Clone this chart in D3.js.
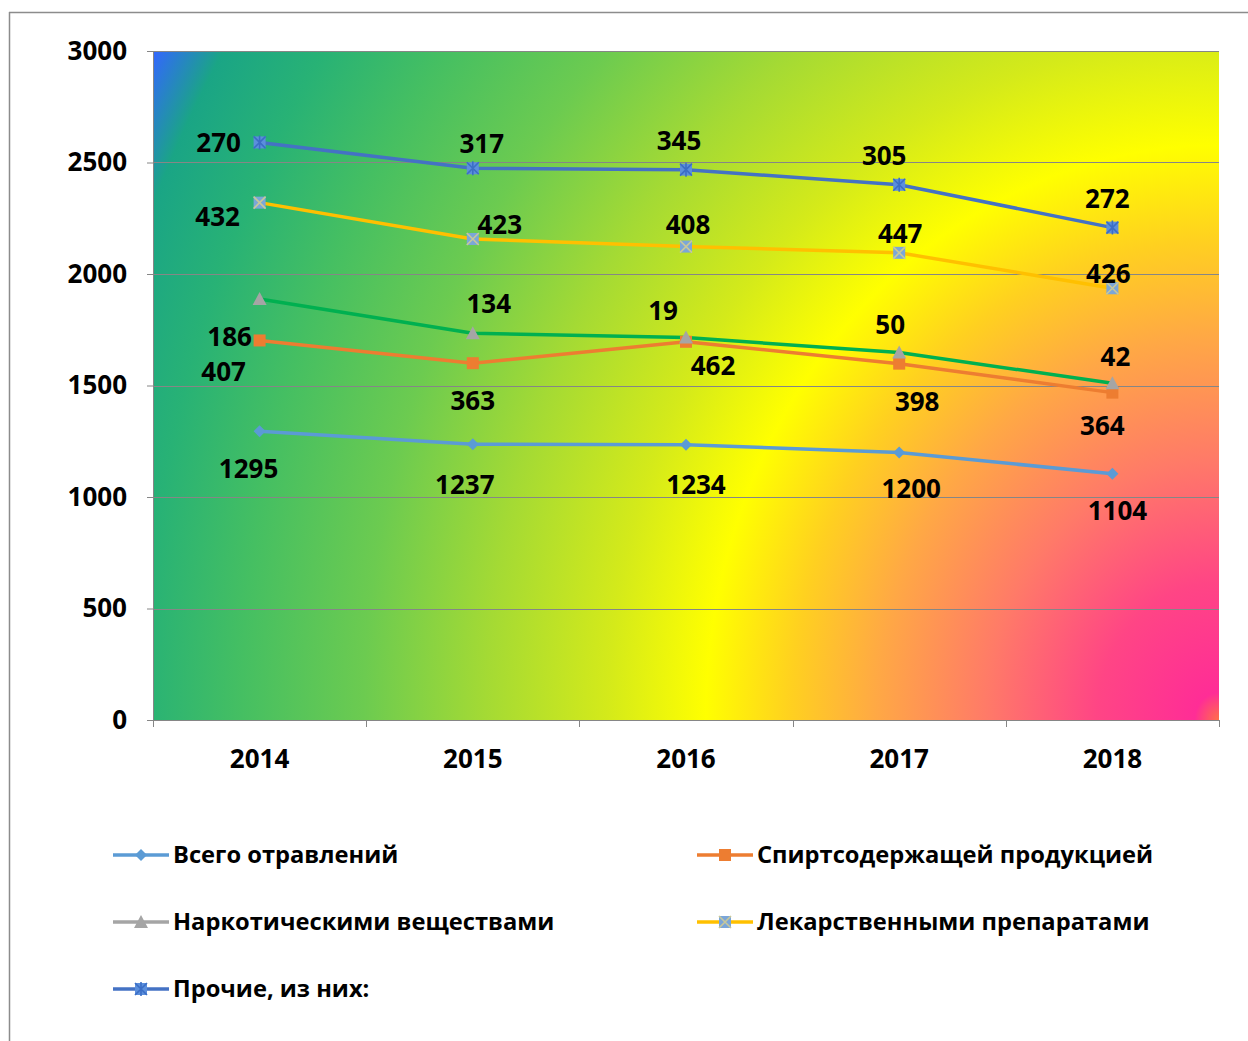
<!DOCTYPE html>
<html><head><meta charset="utf-8">
<script src="https://cdn.jsdelivr.net/npm/d3@7"></script>
<style>
html,body{margin:0;padding:0;background:#fff;}
svg{display:block;}
text{font-family:"Open Sans","Noto Sans",sans-serif;font-weight:700;fill:#000;}
</style></head>
<body>
<script>
// ---- data ----
const years = ["2014","2015","2016","2017","2018"];
const seriesNames = ["Всего отравлений","Спиртсодержащей продукцией","Наркотическими веществами","Лекарственными препаратами","Прочие, из них:"];
const vsego   = [1295,1237,1234,1200,1104];
const spirt   = [407,363,462,398,364];
const narko   = [186,134,19,50,42];
const lekar   = [432,423,408,447,426];
const prochie = [270,317,345,305,272];
const yTicks  = [0,500,1000,1500,2000,2500,3000];

// ---- layout / style (not data) ----
const W=1248,H=1041;
const plot={l:153,r:1219,t:51,b:720};
const colors=["#5b9bd5","#ed7d31","#a5a5a5","#ffc000","#4472c4"];
const lineColors=["#5b9bd5","#ed7d31","#00b050","#ffc000","#4472c4"];
const markerTypes=["diamond","square","triangle","xsquare","star"];
// label offsets per series per point (dx,dy) from the marker
const labelOffsets=[
 [[-11,38],[-8,41],[10,40],[12,36],[5,37]],
 [[-36,31],[0,38],[27,24],[18,38],[-10,33]],
 [[-30,38],[16,-29],[-23,-27],[-9,-28],[3,-26]],
 [[-42,14],[27,-14],[2,-22],[1,-19],[-4,-14]],
 [[-41,0],[9,-24],[-7,-29],[-15,-29],[-5,-29]]
];
const FSN=26, FSL=23.7;

const raw=[vsego,spirt,narko,lekar,prochie];
// stacked values
const stacked=[];
raw.forEach((s,i)=>{stacked.push(s.map((v,j)=>v+(i?stacked[i-1][j]:0)));});

const svg=d3.select("body").append("svg").attr("width",W).attr("height",H);
const defs=svg.append("defs");
const rg=defs.append("radialGradient").attr("id","bg").attr("gradientUnits","userSpaceOnUse")
  .attr("cx",0).attr("cy",0).attr("r",1)
  .attr("gradientTransform",`translate(${plot.r},${plot.b}) scale(1222,1369)`);
[[0,"#ff7048"],[0.02,"#ff2d96"],[0.1,"#ff4585"],[0.19,"#ff7a68"],[0.28,"#ffa845"],[0.35,"#ffd020"],[0.42,"#ffff00"],[0.5,"#d4ea1a"],[0.6,"#a4da34"],[0.7,"#6ccb50"],[0.8,"#45bf62"],[0.88,"#28b275"],[0.95,"#1aa585"],[1,"#3366ff"]]
 .forEach(([o,c])=>rg.append("stop").attr("offset",o).attr("stop-color",c));

// chart border (top & left visible)
svg.append("line").attr("x1",9).attr("x2",W+5).attr("y1",12.5).attr("y2",12.5).attr("stroke","#8c8c8c").attr("stroke-width",1.5);
svg.append("line").attr("x1",9.5).attr("x2",9.5).attr("y1",12).attr("y2",H+5).attr("stroke","#8c8c8c").attr("stroke-width",1.5);

const x=d3.scaleBand().domain(years).range([plot.l,plot.r]).padding(0);
const y=d3.scaleLinear().domain([0,3000]).range([plot.b,plot.t]);
const cx=d=>x(d)+x.bandwidth()/2;

svg.append("rect").attr("x",plot.l).attr("y",plot.t).attr("width",plot.r-plot.l).attr("height",plot.b-plot.t).attr("fill","url(#bg)");

// gridlines
svg.append("g").selectAll("line").data(yTicks.filter(t=>t>0)).join("line")
 .attr("x1",plot.l).attr("x2",plot.r).attr("y1",d=>Math.round(y(d))+0.5).attr("y2",d=>Math.round(y(d))+0.5)
 .attr("stroke","#868686").attr("stroke-width",1);

// y axis
const ya=svg.append("g").attr("transform",`translate(${plot.l},0)`).call(d3.axisLeft(y).tickValues(yTicks).tickSize(6).tickPadding(20).tickFormat(d3.format("d")));
ya.select(".domain").attr("stroke","#868686");
ya.selectAll(".tick line").attr("stroke","#868686");
ya.selectAll("text").style("font-size",FSN+"px").attr("fill","#000");

// x axis
const xa=svg.append("g").attr("transform",`translate(0,${plot.b})`).call(d3.axisBottom(x).tickSize(0).tickPadding(30));
xa.select(".domain").attr("stroke","#868686");
xa.selectAll("text").style("font-size",FSN+"px").attr("fill","#000");
svg.append("g").selectAll("line").data(d3.range(years.length+1)).join("line")
 .attr("x1",i=>Math.round(plot.l+i*x.bandwidth())+0.5).attr("x2",i=>Math.round(plot.l+i*x.bandwidth())+0.5)
 .attr("y1",plot.b).attr("y2",plot.b+7).attr("stroke","#868686");

function marker(g,type,i){
  const c=colors[i];
  if(type==="diamond"){g.append("path").attr("d","M0,-6L6,0L0,6L-6,0Z").attr("fill",c);}
  else if(type==="square"){g.append("rect").attr("x",-6).attr("y",-6).attr("width",12).attr("height",12).attr("fill",c);}
  else if(type==="triangle"){g.append("path").attr("d","M0,-7L7,6L-7,6Z").attr("fill",c);}
  else if(type==="xsquare"){g.append("rect").attr("x",-6).attr("y",-6).attr("width",12).attr("height",12).attr("fill","#7ba6d8");
    g.append("path").attr("d","M-6,-6L6,6M6,-6L-6,6").attr("stroke","#c8c89a").attr("stroke-width",1.6);}
  else if(type==="star"){g.append("rect").attr("x",-6).attr("y",-6).attr("width",12).attr("height",12).attr("fill","#5b8fdc");
    g.append("path").attr("d","M-6,-6L6,6M6,-6L-6,6M0,-7L0,7").attr("stroke","#3b6ec6").attr("stroke-width",1.6);}
}

const line=d3.line().x((d,j)=>cx(years[j])).y(d=>y(d));
stacked.forEach((s,i)=>{
  svg.append("path").datum(s).attr("d",line).attr("fill","none").attr("stroke",lineColors[i]).attr("stroke-width",3.5).attr("stroke-linejoin","round");
});
stacked.forEach((s,i)=>{
  s.forEach((v,j)=>{
    const g=svg.append("g").attr("transform",`translate(${cx(years[j])},${y(v)})`);
    marker(g,markerTypes[i],i);
  });
});
// labels
raw.forEach((s,i)=>{
  s.forEach((v,j)=>{
    const o=labelOffsets[i][j];
    svg.append("text").attr("x",cx(years[j])+o[0]).attr("y",y(stacked[i][j])+o[1]).attr("dy","0.35em")
      .attr("text-anchor","middle").style("font-size",FSN+"px").text(v);
  });
});

// legend
const legPos=[[113,855],[697,855],[113,922],[697,922],[113,989]];
seriesNames.forEach((n,i)=>{
  const [lx,ly]=legPos[i];
  const g=svg.append("g").attr("transform",`translate(${lx},${ly})`);
  g.append("line").attr("x1",0).attr("x2",56).attr("y1",0).attr("y2",0).attr("stroke",i===2?"#a5a5a5":lineColors[i]).attr("stroke-width",3.5);
  const mg=g.append("g").attr("transform","translate(28,0)");
  marker(mg,markerTypes[i],i);
  g.append("text").attr("x",60).attr("y",0).attr("dy","0.35em").style("font-size",FSL+"px").text(n);
});
</script>
</body></html>
